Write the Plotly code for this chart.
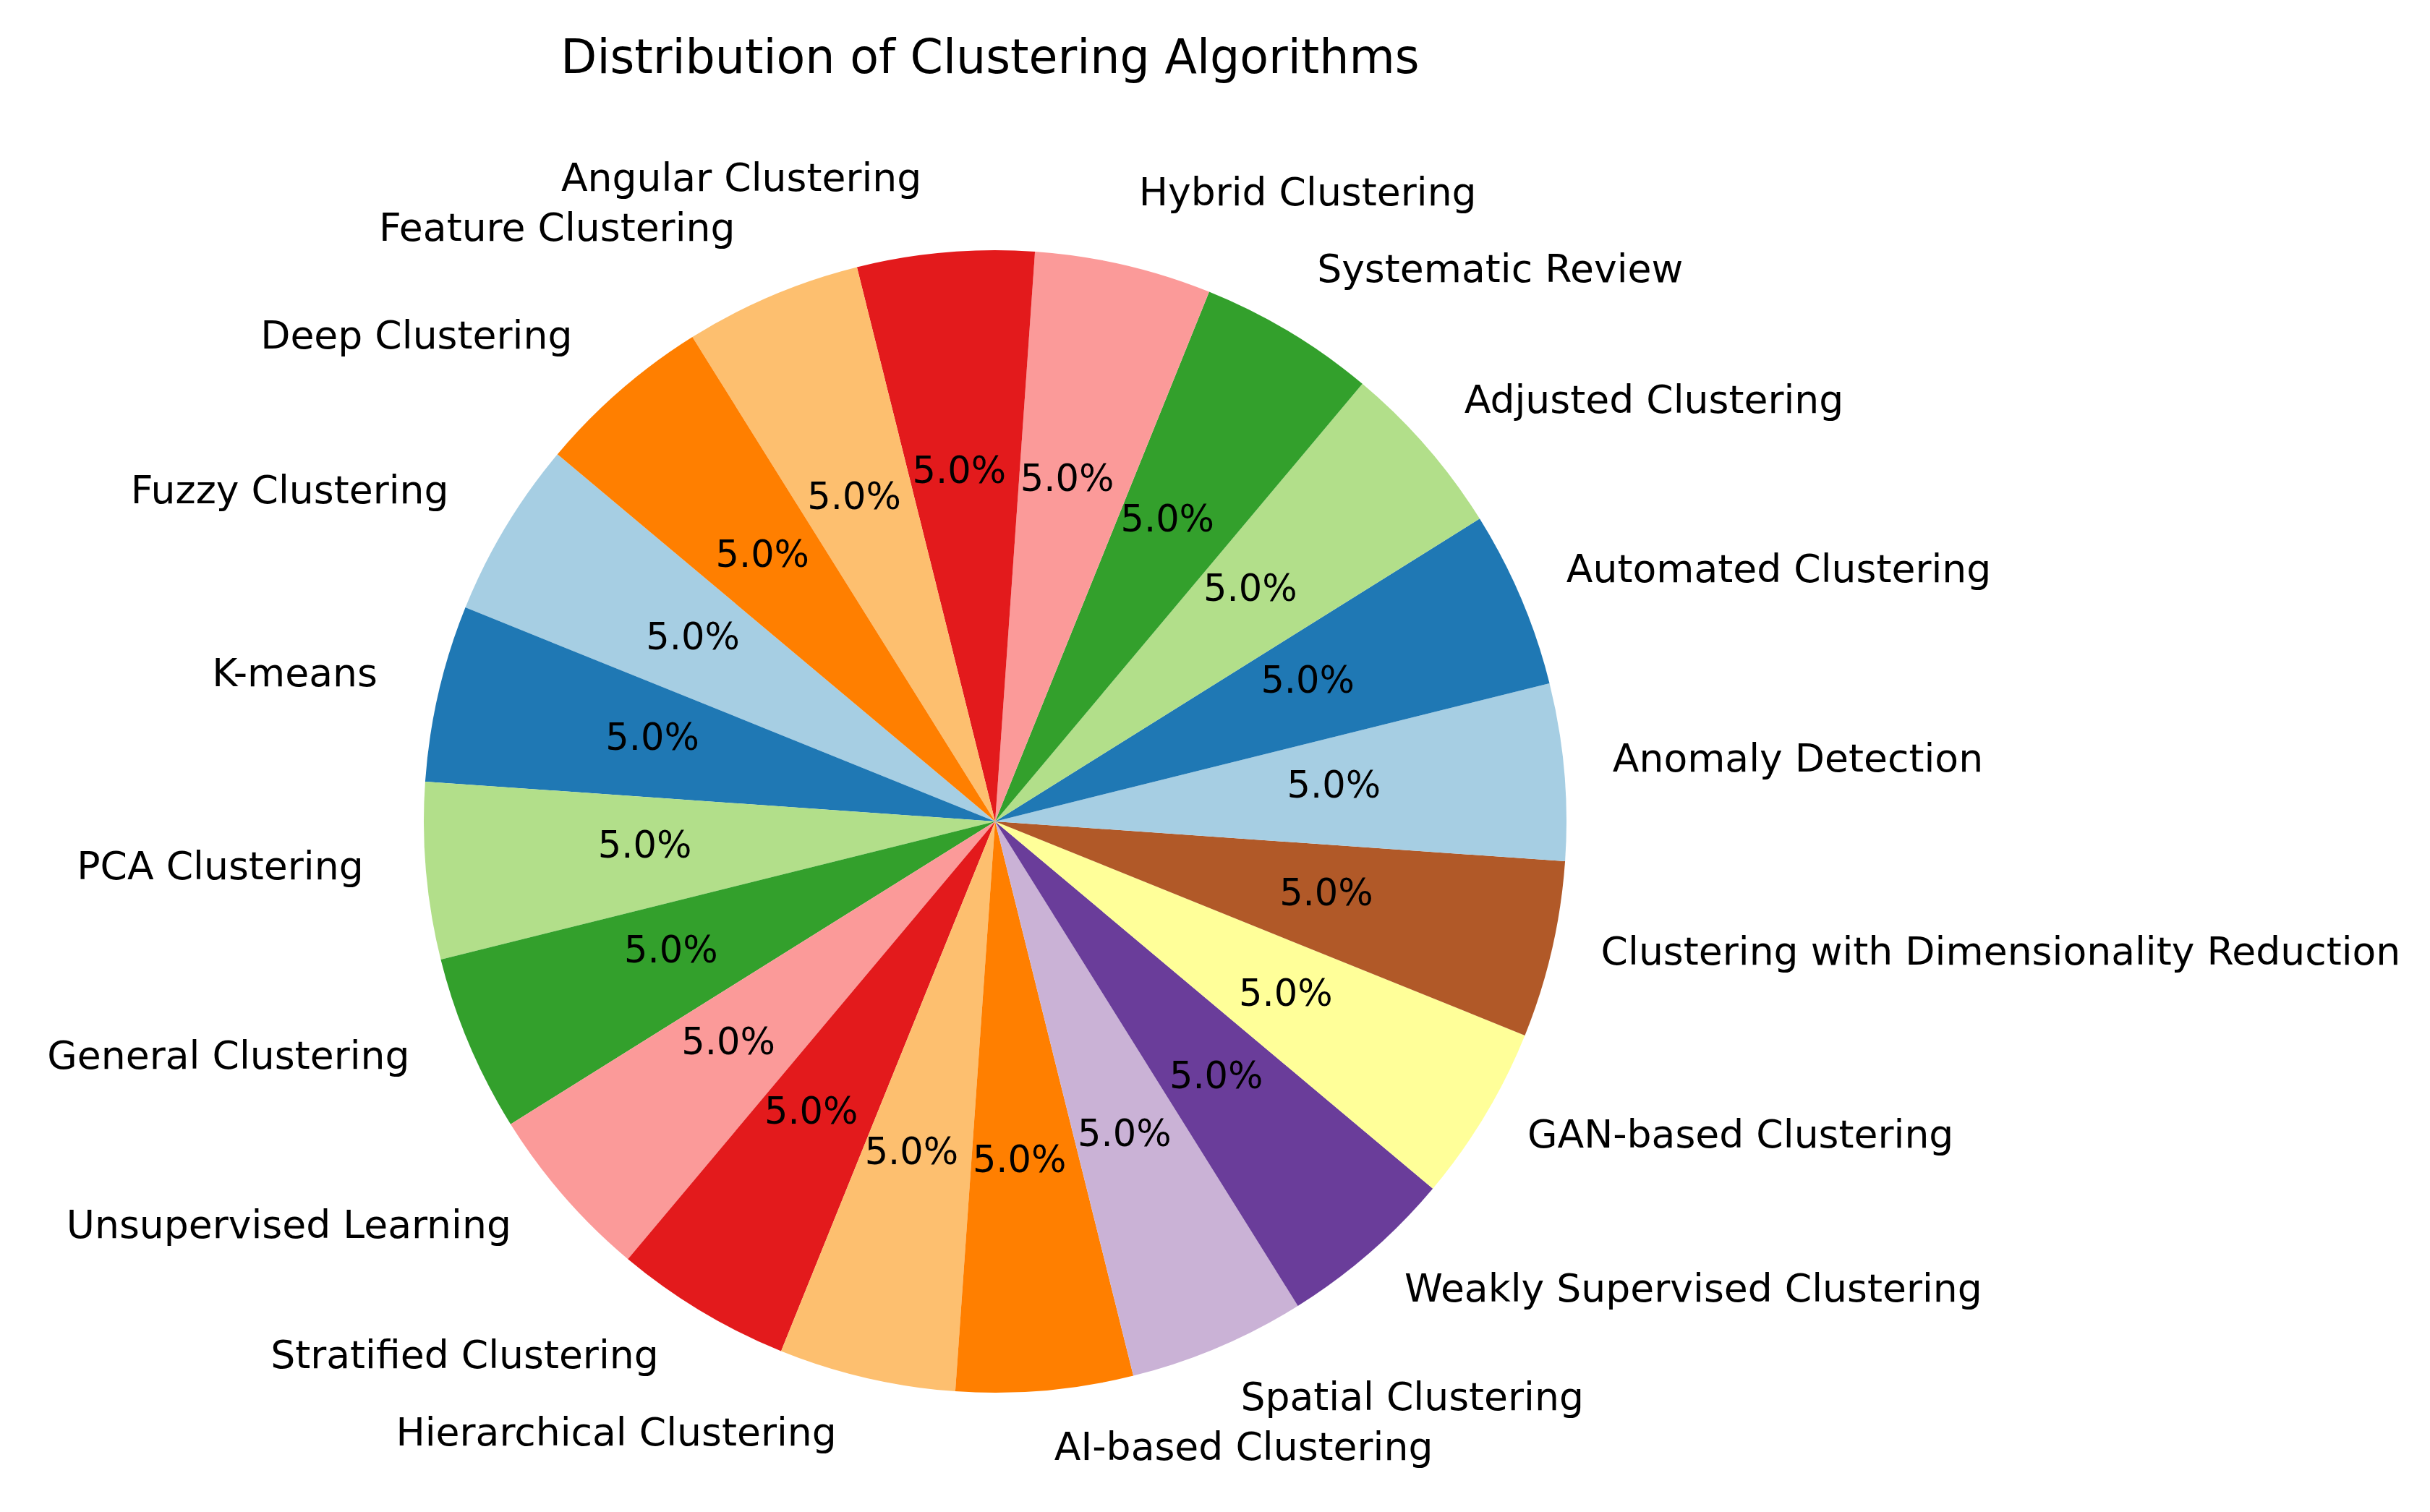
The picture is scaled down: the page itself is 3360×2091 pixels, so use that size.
import plotly.graph_objects as go

# slices in drawing order (counterclockwise, starting at Fuzzy Clustering)
algorithms = [
    "Fuzzy Clustering", "K-means", "PCA Clustering", "General Clustering",
    "Unsupervised Learning", "Stratified Clustering", "Hierarchical Clustering",
    "AI-based Clustering", "Spatial Clustering", "Weakly Supervised Clustering",
    "GAN-based Clustering", "Clustering with Dimensionality Reduction",
    "Anomaly Detection", "Automated Clustering", "Adjusted Clustering",
    "Systematic Review", "Hybrid Clustering", "Angular Clustering",
    "Feature Clustering", "Deep Clustering",
]
counts = [1] * 20

paired = ['#a6cee3', '#1f78b4', '#b2df8a', '#33a02c', '#fb9a99', '#e31a1c',
          '#fdbf6f', '#ff7f00', '#cab2d6', '#6a3d9a', '#ffff99', '#b15928']
colors = [paired[i % len(paired)] for i in range(len(algorithms))]

W, H = 3360, 2091
cx, cy, r = 1368, 1128, 790
ROT = -68


def dom(k, dx=0, dy=0):
    rr = r * k
    x0, y0 = cx + dx, cy + dy
    return dict(x=[(x0 - rr) / W, (x0 + rr) / W], y=[(H - y0 - rr) / H, (H - y0 + rr) / H])


font = "DejaVu Sans"
clear = ["rgba(0,0,0,0)"] * len(algorithms)
common = dict(labels=algorithms, values=counts, sort=False, direction="counterclockwise",
              rotation=ROT, showlegend=False)

fig = go.Figure()
# coloured pie
fig.add_trace(go.Pie(**common, domain=dom(1.0),
                     marker=dict(colors=colors, line=dict(width=0)),
                     textinfo="none", hoverinfo="label+percent"))
# percentages, on a smaller transparent pie so they sit nearer the centre
fig.add_trace(go.Pie(**common, domain=dom(0.70, -8, -9),
                     marker=dict(colors=clear, line=dict(width=0)),
                     texttemplate="%{percent:.1%}", textposition="inside",
                     insidetextorientation="horizontal",
                     textfont=dict(family=font, size=51, color="black"),
                     hoverinfo="skip"))
# labels outside
fig.add_trace(go.Pie(**common, domain=dom(1.075, -10, -13),
                     marker=dict(colors=clear, line=dict(width=0)),
                     textinfo="label", textposition="outside",
                     outsidetextfont=dict(family=font, size=54, color="black"),
                     hoverinfo="skip"))

fig.update_layout(
    width=W, height=H,
    margin=dict(l=0, r=0, t=0, b=0),
    paper_bgcolor="white",
    title=dict(text="Distribution of Clustering Algorithms", x=(cx - 7) / W, xanchor="center",
               y=1 - 70 / H, yanchor="middle",
               font=dict(family=font, size=65, color="black")),
    uniformtext=dict(minsize=51, mode="show"),
)

fig.write_html("out.html")
